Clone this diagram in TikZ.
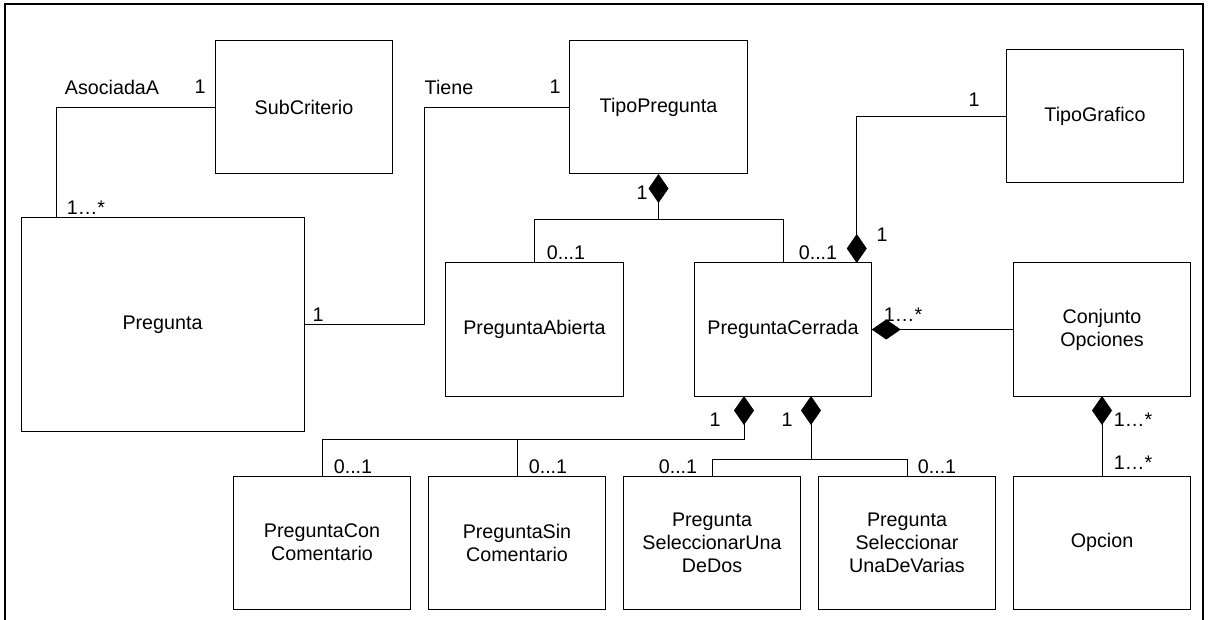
\documentclass[tikz,border=0pt]{standalone}
\usepackage{fontspec}
\setmainfont{Liberation Sans}
\usetikzlibrary{arrows.meta,positioning}

\begin{document}
\begin{tikzpicture}[
    x=1pt, y=-1pt,
    font=\fontsize{19.7pt}{23pt}\selectfont,
    node distance=17.5pt,
    box/.style={rectangle, draw=black, line width=1pt, align=center, minimum width=177.5pt, minimum height=133pt, inner sep=0pt, outer sep=0pt},
    conn/.style={line width=1pt},
    comp/.style={line width=1pt, {Diamond[length=29pt, width=20pt]}-},
    mult/.style={inner sep=0pt}
]
\useasboundingbox (0,0) rectangle (1208,620);
\draw[line width=1.5pt] (5,620) -- (5,4) -- (1203,4) -- (1203,620);

% classes
\node[box] (subcrit) at (304,107.5) {SubCriterio};
\node[box] (tipopreg) at (658.5,107.5) {TipoPregunta};
\node[box] (tipograf) at (1095,116.5) {TipoGrafico};
\node[box, minimum width=283pt, minimum height=213pt] (pregunta) at (162.5,324.5) {Pregunta};
\node[box] (pabierta) at (534.5,329.5) {PreguntaAbierta};
\node[box] (pcerrada) at (783,329.5) {PreguntaCerrada};
\node[box] (conjunto) at (1102,329.5) {Conjunto\\Opciones};
\node[box] (pcon) at (322,542.5) {PreguntaCon\\Comentario};
\node[box, right=of pcon] (psin) {PreguntaSin\\Comentario};
\node[box, right=of psin] (pdedos) {Pregunta\\SeleccionarUna\\DeDos};
\node[box, right=of pdedos] (pvarias) {Pregunta\\Seleccionar\\UnaDeVarias};
\node[box, right=of pvarias] (opcion) {Opcion};

% associations
\draw[conn] ([xshift=35pt]pregunta.north west) |- (subcrit.west);
\draw[conn] (pregunta.east) -- ++(120,0) |- (tipopreg.west);

% compositions
\draw[comp] (tipopreg.south) -- ++(0,46) -| (pabierta.north);
\draw[conn] (tipopreg.south) ++(0,46) -| (pcerrada.north);
\draw[comp] ([xshift=-15pt]pcerrada.north east) |- (tipograf.west);
\draw[comp] (pcerrada.east) -- (conjunto.west);
\draw[comp] (conjunto.south) -- (opcion.north);
\draw[comp] ([xshift=-39pt]pcerrada.south) -- ++(0,43) -| (pcon.north);
\draw[conn] ([xshift=-39pt]pcerrada.south) ++(0,43) -| (psin.north);
\draw[comp] ([xshift=28pt]pcerrada.south) -- ++(0,63) -| (pdedos.north);
\draw[conn] ([xshift=28pt]pcerrada.south) ++(0,63) -| (pvarias.north);

% roles and multiplicities
\node[mult] (lasoc) at (112,87) {AsociadaA};
\node[mult] (msub) at (200,87) {1};
\node[mult] (mpregA) at (86,208) {1…*};
\node[mult] (ltiene) at (449,87) {Tiene};
\node[mult] (mtipo) at (555,87) {1};
\node[mult] (mpregB) at (318,315) {1};
\node[mult] (mtipoC) at (642,193) {1};
\node[mult] (mabierta) at (566,253) {0...1};
\node[mult] (mcerrada) at (818,253) {0...1};
\node[mult] (mgrafC) at (882,235) {1};
\node[mult] (mgraf) at (974,100) {1};
\node[mult] (mconjC) at (903,315) {1…*};
\node[mult] (mconA) at (715,420) {1};
\node[mult] (mselA) at (787,420) {1};
\node[mult] (mcon) at (353,467) {0...1};
\node[mult] (msin) at (548,467) {0...1};
\node[mult] (mdedos) at (678,467) {0...1};
\node[mult] (mvarias) at (937,467) {0...1};
\node[mult] (mopcC) at (1133,420) {1…*};
\node[mult] (mopc) at (1133,463) {1…*};
\end{tikzpicture}
\end{document}
